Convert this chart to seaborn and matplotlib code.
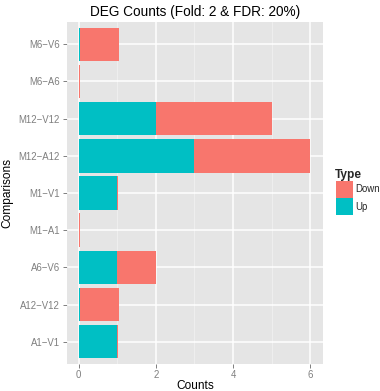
import matplotlib
matplotlib.use("Agg")
import matplotlib.pyplot as plt
import seaborn as sns
import pandas as pd
from matplotlib.patches import Rectangle

comparisons = ["M6\u2212V6", "M6\u2212A6", "M12\u2212V12", "M12\u2212A12", "M1\u2212V1",
               "M1\u2212A1", "A6\u2212V6", "A12\u2212V12", "A1\u2212V1"]
up_counts = [0.04, 0.0, 2, 3, 1, 0.0, 1, 0.04, 1]
down_counts = [1, 0.04, 3, 3, 0.03, 0.04, 1, 1, 0.03]
x_ticks = [0, 2, 4, 6]
legend_labels = ["Down", "Up"]

RED = "#F8766D"
TEAL = "#00BFC4"

sns.set_theme(style="darkgrid")
plt.rcParams["font.family"] = ["Liberation Sans", "DejaVu Sans"]

df = pd.DataFrame({"Comparison": comparisons, "Up": up_counts, "Down": down_counts})
df["Total"] = df["Up"] + df["Down"]

W, H = 380, 391
fig = plt.figure(figsize=(W / 100, H / 100), dpi=100)
ax = fig.add_axes([67 / W, 27 / H, 256 / W, 342 / H])
ax.set_facecolor("#E5E5E5")

sns.barplot(data=df, x="Total", y="Comparison", order=comparisons, color=RED,
            width=0.9, saturation=1, linewidth=0, edgecolor="none", ax=ax, zorder=3)
sns.barplot(data=df, x="Up", y="Comparison", order=comparisons, color=TEAL,
            width=0.9, saturation=1, linewidth=0, edgecolor="none", ax=ax, zorder=4)

ax.set_xlim(-0.3, 6.33)
ax.set_ylim(8.6, -0.6)
ax.set_xticks(x_ticks)
ax.set_xticklabels([str(t) for t in x_ticks])

ax.grid(False)
for t in x_ticks:
    ax.axvline(t, color="white", lw=1.1, zorder=1)
for t in [1, 3, 5]:
    ax.axvline(t, color="#F2F2F2", lw=0.55, zorder=1)
for i in range(len(comparisons)):
    ax.axhline(i, color="white", lw=1.1, zorder=1)

for s in ax.spines.values():
    s.set_visible(False)

ax.tick_params(axis="both", which="major", length=3, width=0.7, color="#7F7F7F",
               labelcolor="#7F7F7F", labelsize=6.9, left=True, bottom=True)
ax.tick_params(axis="y", pad=2)
ax.tick_params(axis="x", pad=1)

ax.set_xlabel("Counts", fontsize=8.6, color="black", labelpad=0)
ax.set_ylabel("Comparisons", fontsize=8.6, color="black", labelpad=4)
ax.set_title("DEG Counts (Fold: 2 & FDR: 20%)", fontsize=9.8, color="black", pad=4)

def fx(px):
    return px / W

def fy(py):
    return 1 - py / H

fig.text(fx(335), fy(175), "Type", fontsize=8.6, fontweight="bold",
         ha="left", va="center")
for k, (lab, col) in enumerate(zip(legend_labels, [RED, TEAL])):
    top = 181 + 17 * k
    fig.add_artist(Rectangle((fx(336), fy(top + 17)), 17 / W, 17 / H,
                             facecolor=col, edgecolor="none",
                             transform=fig.transFigure))
    fig.text(fx(355), fy(top + 8.5), lab, fontsize=6.9, ha="left", va="center")

fig.savefig("out.png", dpi=100)
